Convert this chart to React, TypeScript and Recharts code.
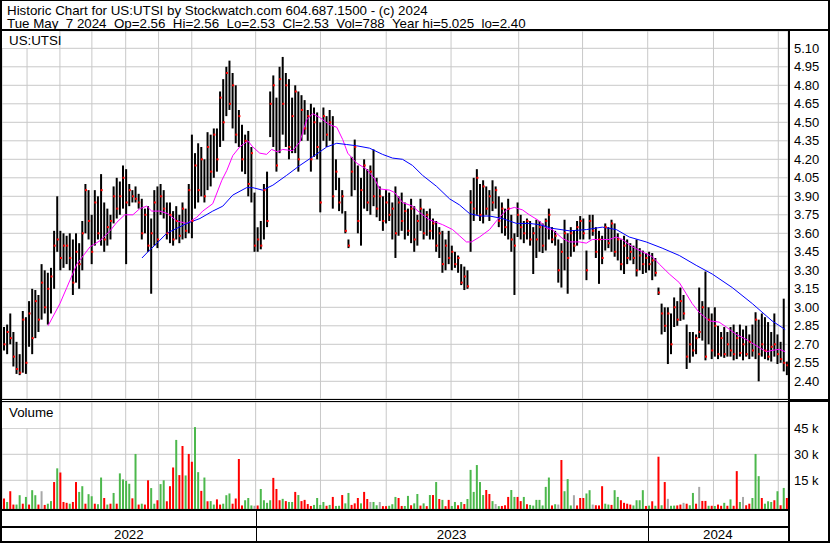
import React from "react";
import { ComposedChart, Bar, Line, Scatter, XAxis, YAxis, CartesianGrid, Cell } from "recharts";

// daily bars are grouped two trading days per bar, May 2022 .. May 7 2024
const hi = [
  2.84, 2.86, 2.95, 2.80, 2.72, 2.62, 2.97, 2.92, 3.05, 3.15,
  3.14, 3.10, 3.35, 3.30, 3.28, 3.32, 3.62, 3.90, 3.62, 3.60,
  3.58, 3.60, 3.55, 3.60, 3.52, 3.70, 4.00, 3.95, 3.75, 3.95,
  3.90, 4.08, 3.85, 3.80, 3.75, 3.98, 4.05, 4.02, 4.15, 4.12,
  4.00, 3.95, 3.98, 3.92, 3.88, 3.80, 3.82, 3.72, 3.95, 3.98,
  4.00, 3.95, 3.85, 3.85, 3.78, 3.82, 3.75, 3.85, 3.80, 4.00,
  4.40, 4.25, 4.33, 4.30, 4.20, 4.42, 4.40, 4.45, 4.45, 4.75,
  4.85, 4.95, 5.00, 4.90, 4.80, 4.60, 4.48, 4.40, 4.43, 4.30,
  3.93, 3.65, 3.70, 4.00, 4.10, 4.75, 4.88, 4.70, 4.95, 5.03,
  4.90, 4.85, 4.70, 4.80, 4.75, 4.72, 4.68, 4.60, 4.65, 4.62,
  4.58, 4.50, 4.62, 4.55, 4.60, 4.55, 4.20, 4.05, 3.95, 3.78,
  3.55, 4.22, 4.36, 4.15, 4.05, 4.20, 4.12, 4.15, 4.28, 4.05,
  3.98, 3.90, 3.95, 3.93, 3.85, 3.98, 3.90, 3.93, 3.85, 3.80,
  3.88, 3.82, 3.75, 3.88, 3.80, 3.78, 3.80, 3.72, 3.70, 3.65,
  3.62, 3.55, 3.62, 3.50, 3.45, 3.42, 3.35, 3.33, 3.30, 3.95,
  4.05, 4.12, 4.00, 4.03, 3.98, 3.95, 4.03, 3.98, 3.90, 3.85,
  3.80, 3.88, 3.75, 3.60, 3.85, 3.75, 3.70, 3.72, 3.70, 3.65,
  3.71, 3.70, 3.68, 3.72, 3.80, 3.65, 3.62, 3.55, 3.52, 3.71,
  3.60, 3.65, 3.62, 3.70, 3.74, 3.72, 3.46, 3.75, 3.75, 3.65,
  3.62, 3.58, 3.68, 3.65, 3.71, 3.68, 3.60, 3.55, 3.58, 3.55,
  3.52, 3.50, 3.55, 3.48, 3.46, 3.44, 3.45, 3.44, 3.40, 3.16,
  3.03, 3.00, 3.00, 2.95, 3.08, 3.05, 3.16, 3.10, 2.86, 2.80,
  2.80, 2.78, 3.16, 3.05, 3.29, 3.00, 2.95, 3.00, 2.85, 2.80,
  2.84, 2.80, 2.84, 2.86, 2.80, 2.86, 2.82, 2.85, 2.78, 2.86,
  2.96, 2.90, 2.95, 2.92, 2.88, 2.80, 2.95, 2.78, 2.72, 3.07, 2.56,
];

const lo = [
  2.65, 2.62, 2.70, 2.52, 2.46, 2.45, 2.47, 2.46, 2.68, 2.62,
  2.75, 2.80, 2.90, 2.95, 2.86, 2.95, 3.15, 3.45, 3.30, 3.32,
  3.35, 3.30, 3.10, 3.20, 3.15, 3.30, 3.60, 3.55, 3.35, 3.50,
  3.55, 3.50, 3.45, 3.50, 3.55, 3.68, 3.72, 3.75, 3.80, 3.35,
  3.82, 3.85, 3.85, 3.80, 3.55, 3.60, 3.45, 3.11, 3.50, 3.48,
  3.75, 3.72, 3.55, 3.52, 3.50, 3.55, 3.52, 3.55, 3.56, 3.60,
  3.56, 3.80, 3.85, 3.90, 3.85, 3.95, 3.98, 4.05, 4.10, 4.30,
  4.35, 4.55, 4.60, 4.45, 4.33, 4.30, 4.10, 4.08, 3.90, 3.85,
  3.45, 3.45, 3.47, 3.55, 3.65, 4.38, 4.30, 4.10, 4.25, 4.40,
  4.30, 4.20, 4.25, 4.25, 4.10, 4.35, 4.40, 4.35, 4.10, 4.22,
  4.20, 3.77, 4.35, 4.30, 4.35, 3.80, 3.95, 3.78, 3.76, 3.60,
  3.48, 3.90, 3.95, 3.60, 3.50, 3.80, 3.78, 3.75, 3.82, 3.73,
  3.70, 3.62, 3.68, 3.70, 3.55, 3.40, 3.58, 3.62, 3.55, 3.58,
  3.52, 3.45, 3.50, 3.62, 3.55, 3.58, 3.55, 3.55, 3.45, 3.40,
  3.28, 3.30, 3.35, 3.30, 3.32, 3.28, 3.18, 3.14, 3.15, 3.45,
  3.70, 3.75, 3.70, 3.68, 3.75, 3.70, 3.78, 3.80, 3.65, 3.60,
  3.58, 3.55, 3.45, 3.10, 3.57, 3.55, 3.52, 3.55, 3.50, 3.27,
  3.40, 3.45, 3.44, 3.46, 3.55, 3.52, 3.50, 3.20, 3.16, 3.30,
  3.11, 3.41, 3.45, 3.50, 3.55, 3.55, 3.22, 3.55, 3.58, 3.40,
  3.19, 3.35, 3.46, 3.48, 3.45, 3.41, 3.38, 3.30, 3.27, 3.35,
  3.38, 3.35, 3.25, 3.30, 3.27, 3.28, 3.30, 3.22, 3.25, 3.10,
  2.78, 2.80, 2.54, 2.62, 2.84, 2.85, 2.89, 2.90, 2.50, 2.55,
  2.60, 2.62, 2.75, 2.73, 2.57, 2.70, 2.58, 2.60, 2.58, 2.60,
  2.59, 2.60, 2.60, 2.57, 2.58, 2.60, 2.57, 2.60, 2.58, 2.60,
  2.58, 2.40, 2.60, 2.58, 2.57, 2.56, 2.60, 2.54, 2.55, 2.48, 2.45,
];

const cl = [
  2.70, 2.80, 2.75, 2.60, 2.50, 2.47, 2.90, 2.55, 2.95, 2.75,
  3.05, 2.90, 3.20, 3.00, 3.15, 3.25, 3.50, 3.55, 3.40, 3.50,
  3.50, 3.40, 3.20, 3.45, 3.35, 3.60, 3.95, 3.70, 3.45, 3.85,
  3.60, 3.95, 3.55, 3.65, 3.70, 3.90, 3.80, 3.90, 4.05, 3.85,
  3.95, 3.90, 3.88, 3.85, 3.60, 3.75, 3.50, 3.60, 3.85, 3.55,
  3.90, 3.80, 3.60, 3.75, 3.55, 3.70, 3.58, 3.80, 3.62, 3.95,
  3.70, 4.15, 3.95, 4.20, 3.90, 4.30, 4.10, 4.40, 4.20, 4.70,
  4.50, 4.90, 4.65, 4.80, 4.40, 4.55, 4.20, 4.35, 4.00, 4.25,
  3.50, 3.55, 3.50, 3.95, 3.70, 4.65, 4.80, 4.15, 4.85, 4.65,
  4.80, 4.30, 4.55, 4.75, 4.20, 4.60, 4.45, 4.55, 4.20, 4.50,
  4.30, 3.85, 4.55, 4.40, 4.50, 3.90, 4.10, 3.85, 3.90, 3.62,
  3.50, 4.10, 4.30, 3.70, 3.95, 4.15, 3.85, 4.10, 3.90, 3.80,
  3.90, 3.70, 3.85, 3.75, 3.80, 3.60, 3.85, 3.70, 3.78, 3.62,
  3.80, 3.55, 3.70, 3.80, 3.60, 3.75, 3.62, 3.68, 3.50, 3.60,
  3.35, 3.50, 3.40, 3.45, 3.35, 3.40, 3.20, 3.25, 3.17, 3.85,
  3.80, 4.05, 3.75, 3.98, 3.80, 3.90, 3.85, 3.95, 3.70, 3.80,
  3.65, 3.80, 3.55, 3.50, 3.75, 3.65, 3.60, 3.70, 3.55, 3.60,
  3.55, 3.65, 3.50, 3.70, 3.75, 3.55, 3.58, 3.30, 3.45, 3.60,
  3.40, 3.60, 3.50, 3.65, 3.70, 3.60, 3.30, 3.70, 3.62, 3.45,
  3.55, 3.40, 3.65, 3.52, 3.68, 3.45, 3.55, 3.35, 3.50, 3.40,
  3.45, 3.40, 3.30, 3.42, 3.35, 3.40, 3.35, 3.38, 3.28, 3.12,
  2.95, 2.85, 2.95, 2.70, 3.00, 2.90, 3.05, 2.95, 2.60, 2.70,
  2.65, 2.75, 2.80, 3.00, 2.60, 2.90, 2.65, 2.85, 2.62, 2.75,
  2.62, 2.70, 2.65, 2.62, 2.75, 2.63, 2.70, 2.62, 2.72, 2.65,
  2.90, 2.62, 2.70, 2.65, 2.60, 2.68, 2.70, 2.62, 2.58, 2.55, 2.53,
];

// volume in thousands of shares; g = up, r = down, n = unchanged
const volK = [
  4.5, 2.5, 8.7, 1, 1, 6.4, 1.5, 5.4, 1, 9.3,
  6.4, 1, 8.7, 0.8, 1.5, 3, 14, 21.9, 19.5, 2.5,
  2, 1.5, 2.5, 14, 8.3, 11.6, 1.5, 7, 5.8, 1.5,
  1.2, 16.6, 4.8, 1, 1.5, 7.7, 1.5, 19, 15.5, 14.7,
  13, 4.6, 30.2, 1, 1.5, 1, 15, 10.5, 1.5, 3.5,
  12.8, 15, 2.9, 11.6, 22.4, 38.3, 18, 34.8, 17.8, 30.2,
  25.7, 45.7, 19.7, 8.9, 16.6, 2.9, 3, 1, 4, 1,
  1.5, 6.4, 7.4, 1.5, 4.5, 27.3, 0.5, 3.5, 4.8, 0.5,
  0.3, 0.5, 10, 3.5, 2, 3.5, 16.4, 10, 3.5, 4.3,
  3, 2.5, 2.5, 8.3, 6.5, 3, 3.7, 1.3, 0.2, 0.8,
  4.8, 0.8, 2.5, 0.3, 0.8, 5.4, 0.2, 0.3, 6.5, 1.7,
  7.7, 0.8, 1.7, 4.8, 1.7, 8.3, 4.2, 2.5, 2.5, 0.6,
  2.5, 0.1, 0.1, 0.3, 1.2, 5.4, 4.8, 0.2, 0.2, 6,
  0.6, 1.7, 7.1, 0.4, 1.7, 0.1, 6.5, 6.5, 14, 4.2,
  3.7, 0.1, 3.7, 0.2, 2.5, 0.6, 2.5, 1.3, 4.2, 21,
  8.3, 23.8, 14, 6.5, 9.4, 7.1, 3, 1.3, 0.1, 0.2,
  0.6, 5.4, 9.4, 5.4, 5.4, 3, 5.4, 1.2, 0.8, 0.4,
  3.7, 3.7, 0.5, 11.2, 16.6, 0.5, 1.2, 1, 26.7, 8.7,
  15.7, 0.5, 6.4, 0.5, 4.8, 4.8, 7.4, 9.3, 1, 0.6,
  0.5, 11.6, 1.5, 1, 0.8, 9.3, 5.4, 3.5, 2, 1.5,
  1, 0.5, 3.5, 3.5, 9.3, 0.2, 0.4, 2.9, 0.3, 28.6,
  0.6, 14, 4.3, 0.3, 0.4, 0.5, 1, 2, 1.5, 0.6,
  7.7, 1.5, 11.2, 3.1, 3.1, 0.3, 0.3, 0.2, 1, 0.3,
  2, 0.3, 4, 0.3, 20.3, 2.5, 5.4, 0.6, 1.5, 4.8,
  30.2, 17.4, 4.8, 1.5, 2.9, 2.5, 3.5, 8.7, 0.6, 10.6, 4.8,
];

const volDir = [
  "r", "g", "r", "r", "g", "g", "r", "g", "r", "g",
  "g", "r", "n", "r", "g", "g", "r", "g", "r", "r",
  "r", "g", "r", "r", "g", "g", "r", "g", "g", "r",
  "g", "g", "r", "g", "r", "g", "r", "g", "g", "g",
  "g", "r", "g", "r", "g", "r", "r", "g", "g", "r",
  "g", "g", "r", "r", "r", "g", "r", "r", "g", "r",
  "r", "g", "g", "r", "g", "r", "g", "g", "r", "r",
  "g", "g", "g", "r", "r", "r", "r", "g", "g", "g",
  "n", "r", "g", "g", "g", "g", "r", "r", "r", "g",
  "r", "g", "g", "r", "g", "r", "r", "r", "r", "g",
  "g", "g", "g", "r", "g", "r", "g", "g", "r", "g",
  "g", "r", "r", "r", "g", "r", "r", "n", "g", "g",
  "n", "r", "r", "g", "g", "g", "r", "r", "g", "g",
  "r", "g", "g", "r", "g", "r", "g", "r", "g", "r",
  "g", "r", "r", "g", "g", "r", "g", "r", "g", "g",
  "g", "g", "g", "g", "r", "r", "g", "n", "g", "r",
  "r", "r", "g", "g", "r", "r", "g", "r", "g", "g",
  "g", "g", "g", "g", "g", "r", "g", "n", "r", "g",
  "g", "g", "n", "r", "r", "r", "g", "g", "n", "r",
  "r", "r", "g", "g", "r", "g", "g", "r", "r", "r",
  "r", "g", "g", "g", "g", "r", "g", "r", "g", "r",
  "g", "r", "n", "g", "g", "r", "r", "n", "r", "g",
  "g", "r", "n", "r", "r", "g", "r", "g", "r", "r",
  "g", "r", "g", "r", "r", "g", "n", "r", "r", "g",
  "g", "g", "r", "g", "g", "g", "r", "g", "r", "g", "r",
];

// moving averages, positions in bar units
const fastAt = [
  14.2, 18.0, 20.2, 23.4, 27.6, 30.8, 34.0, 36.2, 38.7, 41.3, 43.5, 45.7, 47.3, 49.9, 52.4, 55.3, 58.5,
  61.7, 63.6, 66.8, 69.7, 71.3, 73.2, 75.4, 78.0, 79.6, 81.8, 84.0, 85.6, 87.5, 89.1, 92.3, 94.6,
  96.8, 98.7, 100.9, 104.1, 106.4, 108.3, 109.9, 112.7, 115.9, 118.5, 120.1, 123.3, 124.9, 127.4,
  130.6, 132.8, 136.0, 140.2, 143.4, 145.6, 147.8, 149.4, 152.0, 155.2, 157.4, 160.6, 163.1, 165.7,
  167.9, 171.1, 173.4, 175.2, 178.4, 180.7, 183.9, 186.1, 188.0, 191.2, 193.4, 195.7, 197.6, 200.8,
  204.0, 207.2, 209.4, 212.6, 215.8, 218.0, 219.9, 222.1, 225.3, 228.5, 230.8, 234.0, 237.1, 240.3,
  243.5, 245.4, 247.7, 249.6,
];
const fastMa = [
  2.85, 3.03, 3.16, 3.35, 3.49, 3.54, 3.62, 3.69, 3.75, 3.75, 3.80, 3.82, 3.78, 3.78, 3.76, 3.70, 3.68,
  3.73, 3.78, 3.84, 4.03, 4.11, 4.23, 4.30, 4.35, 4.30, 4.25, 4.24, 4.28, 4.26, 4.28, 4.27, 4.34,
  4.52, 4.57, 4.54, 4.48, 4.46, 4.36, 4.25, 4.17, 4.12, 4.04, 3.96, 3.95, 3.93, 3.85,
  3.82, 3.77, 3.71, 3.67, 3.63, 3.58, 3.53, 3.53, 3.57, 3.63, 3.70, 3.79, 3.81, 3.79,
  3.75, 3.70, 3.64, 3.63, 3.56, 3.53, 3.53, 3.52, 3.55, 3.55, 3.55, 3.57, 3.55, 3.49,
  3.45, 3.41, 3.35, 3.27, 3.20, 3.11, 3.03, 2.96, 2.89, 2.88, 2.84, 2.78, 2.74, 2.69,
  2.64, 2.65, 2.66, 2.64,
];
const slowAt = [
  44.2, 46.1, 49.0, 52.1, 55.3, 58.5, 62.7, 66.8, 70.0, 73.2, 77.6, 79.6, 82.7, 86.0, 90.4, 94.6,
  98.7, 103.2, 106.4, 109.5, 112.7, 116.9, 121.0, 124.2, 127.4, 130.6, 133.8, 138.3, 142.4, 145.6,
  148.8, 152.0, 155.2, 159.3, 163.8, 167.9, 171.1, 175.3, 180.7, 186.1, 191.2, 195.7, 199.8, 205.2,
  210.3, 215.8, 221.2, 226.3, 232.7, 239.1, 245.4, 249.6,
];
const slowMa = [
  3.40, 3.45, 3.52, 3.60, 3.64, 3.68, 3.72, 3.78, 3.82, 3.91, 3.97, 3.97, 3.95, 3.99, 4.07, 4.15,
  4.22, 4.30, 4.33, 4.32, 4.31, 4.29, 4.24, 4.21, 4.20, 4.15, 4.07, 3.98, 3.88, 3.83,
  3.76, 3.74, 3.74, 3.72, 3.68, 3.68, 3.67, 3.64, 3.62, 3.63, 3.65, 3.63, 3.57, 3.53,
  3.48, 3.42, 3.34, 3.27, 3.16, 3.03, 2.89, 2.82,
];

const priceTicks = [2.4, 2.55, 2.7, 2.85, 3.0, 3.15, 3.3, 3.45, 3.6, 3.75, 3.9, 4.05, 4.2, 4.35, 4.5, 4.65, 4.8, 4.95, 5.1];
const volTicks = [15000, 30000, 45000];
// first trading day of each month, in bar units
const monthStarts = [
  7.5, 18.0, 28.2, 39.0, 49.5, 60.1, 70.6, 80.5, 91.4, 101.2, 111.6, 122.2,
  132.6, 142.9, 153.6, 164.5, 174.1, 184.9, 195.6, 205.7, 216.3, 226.7, 237.0, 247.4,
];
const years = ["2022", "2023", "2024"];
const yearBounds = [-0.5, 80.5, 205.7, 250.5];

const X_DOMAIN: [number, number] = [-0.5, 250.5];
const PRICE_DOMAIN: [number, number] = [2.2565, 5.2403];
const PLOT_LEFT = 2;
const PLOT_W = 786;
const VOL_FLOOR = -1558;
const GRID = "#c8c8c8";
const FONT = "'Liberation Sans', Arial, sans-serif";
const COLORS: Record<string, string> = { g: "#4cb84c", r: "#ff0000", n: "#a8a8a8" };

const bars = hi.map((h, i) => ({
  i,
  range: [lo[i], h],
  cl: cl[i],
  vol: [VOL_FLOOR, volK[i] * 1000],
  dir: volDir[i],
}));
const fastLine = fastAt.map((i, n) => ({ i, v: fastMa[n] }));
const slowLine = slowAt.map((i, n) => ({ i, v: slowMa[n] }));

const xPx = (k: number) => PLOT_LEFT + ((k - X_DOMAIN[0]) / (X_DOMAIN[1] - X_DOMAIN[0])) * PLOT_W;

const CloseDot = (p: any) => <rect x={p.cx} y={p.cy - 1} width={2} height={2} fill="#ff0000" />;

function Rule({ x, y, w, h }: { x: number; y: number; w: number; h: number }) {
  return <div style={{ position: "absolute", left: x, top: y, width: w, height: h, background: "#000" }} />;
}

const noMargin = { top: 0, right: 0, bottom: 0, left: 0 };
const tickStyle = { fill: "#000", fontSize: 13, fontFamily: FONT };

export default function App() {
  const text: React.CSSProperties = { position: "absolute", fontFamily: FONT, fontSize: 13.33, color: "#000", whiteSpace: "pre", lineHeight: "13px" };
  return (
    <div style={{ position: "relative", width: 830, height: 543, background: "#fff", overflow: "hidden" }}>
      <style>{"body{margin:0}"}</style>

      <div style={{ ...text, left: 7, top: 4 }}>
        {"Historic Chart for US:UTSI by Stockwatch.com 604.687.1500 - (c) 2024\nTue May  7 2024  Op=2.56  Hi=2.56  Lo=2.53  Cl=2.53  Vol=788  Year hi=5.025  lo=2.40"}
      </div>

      {/* price bars */}
      <div style={{ position: "absolute", left: PLOT_LEFT, top: 31 }}>
        <ComposedChart width={PLOT_W + 40} height={368} data={bars} margin={noMargin}>
          <CartesianGrid stroke={GRID} strokeWidth={1} />
          <XAxis dataKey="i" type="number" domain={X_DOMAIN} ticks={monthStarts} hide allowDataOverflow />
          <YAxis
            orientation="right"
            width={40}
            domain={PRICE_DOMAIN}
            ticks={priceTicks}
            interval={0}
            tickFormatter={(v: number) => v.toFixed(2)}
            axisLine={false}
            tickLine={false}
            tickSize={0}
            tickMargin={6}
            tick={tickStyle}
            allowDataOverflow
          />
          <Bar dataKey="range" fill="#000" barSize={2} isAnimationActive={false} />
        </ComposedChart>
      </div>

      {/* moving averages + closes, overlaid on the same scales */}
      <div style={{ position: "absolute", left: PLOT_LEFT, top: 31 }}>
        <ComposedChart width={PLOT_W + 40} height={368} data={bars} margin={{ top: 0, right: 40, bottom: 0, left: 0 }}>
          <XAxis dataKey="i" type="number" domain={X_DOMAIN} hide allowDataOverflow />
          <YAxis hide domain={PRICE_DOMAIN} allowDataOverflow />
          <Line data={fastLine} dataKey="v" stroke="#ff00ff" strokeWidth={1} dot={false} isAnimationActive={false} />
          <Line data={slowLine} dataKey="v" stroke="#0000ff" strokeWidth={1} dot={false} isAnimationActive={false} />
          <Scatter dataKey="cl" shape={CloseDot} isAnimationActive={false} />
        </ComposedChart>
      </div>

      {/* volume */}
      <div style={{ position: "absolute", left: PLOT_LEFT, top: 402 }}>
        <ComposedChart width={PLOT_W + 40} height={107} data={bars} margin={noMargin}>
          <CartesianGrid stroke={GRID} strokeWidth={1} />
          <XAxis dataKey="i" type="number" domain={X_DOMAIN} ticks={monthStarts} hide allowDataOverflow />
          <YAxis
            orientation="right"
            width={40}
            domain={[VOL_FLOOR, 60173]}
            ticks={volTicks}
            interval={0}
            tickFormatter={(v: number) => `${v / 1000} k`}
            axisLine={false}
            tickLine={false}
            tickSize={0}
            tickMargin={6}
            tick={tickStyle}
            allowDataOverflow
          />
          <Bar dataKey="vol" barSize={2} isAnimationActive={false}>
            {bars.map((b) => (
              <Cell key={b.i} fill={COLORS[b.dir]} />
            ))}
          </Bar>
        </ComposedChart>
      </div>

      {/* panel labels sit on white boxes over the grid */}
      <div style={{ ...text, left: 2, top: 31, width: 57, height: 17, background: "#fff", paddingLeft: 7, boxSizing: "border-box", lineHeight: "19px" }}>US:UTSI</div>
      <div style={{ ...text, left: 2, top: 403, width: 57, height: 25, background: "#fff", paddingLeft: 7, boxSizing: "border-box", lineHeight: "20px" }}>Volume</div>

      {/* year strip */}
      {years.map((y, n) => (
        <div key={y} style={{ ...text, left: xPx(yearBounds[n]), width: xPx(yearBounds[n + 1]) - xPx(yearBounds[n]), top: 528, textAlign: "center" }}>
          {y}
        </div>
      ))}
      {yearBounds.slice(1, -1).map((b) => (
        <Rule key={b} x={Math.round(xPx(b))} y={511} w={1} h={30} />
      ))}

      {/* frame */}
      <Rule x={0} y={0} w={830} h={1} />
      <Rule x={0} y={0} w={2} h={543} />
      <Rule x={828} y={0} w={2} h={543} />
      <Rule x={0} y={541} w={830} h={2} />
      <Rule x={0} y={29} w={830} h={2} />
      <Rule x={788} y={31} w={2} h={510} />
      <Rule x={0} y={399} w={788} h={1} />
      <Rule x={0} y={401} w={830} h={1} />
      <Rule x={790} y={399} w={38} h={3} />
      <Rule x={0} y={509} w={788} h={2} />
      <Rule x={0} y={526} w={788} h={2} />
    </div>
  );
}
